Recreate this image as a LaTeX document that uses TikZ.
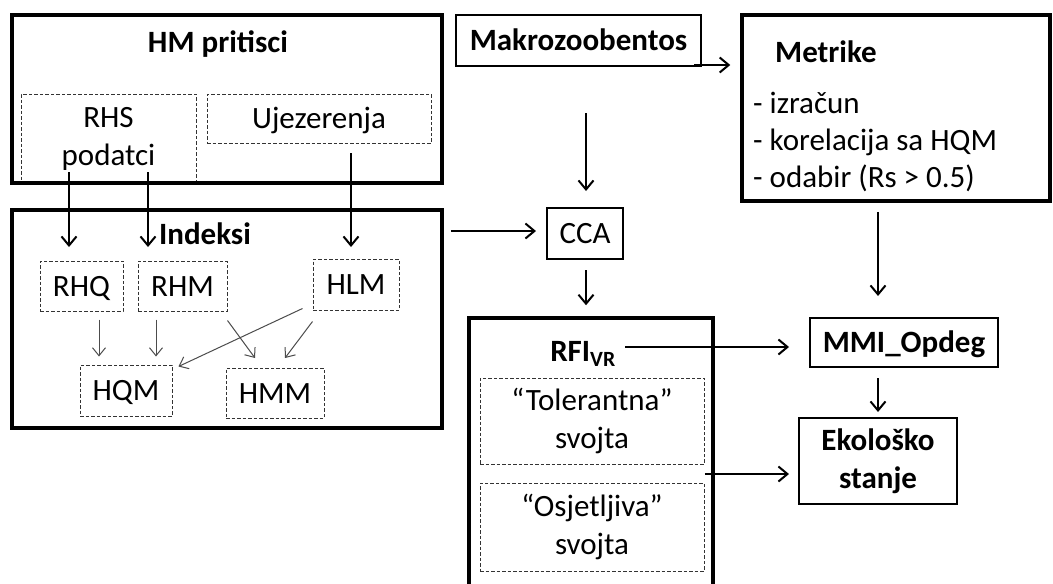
\documentclass[tikz,border=0pt]{standalone}
\usepackage{fontspec}
\setmainfont{Carlito}
\usetikzlibrary{arrows.meta}
\begin{document}
\begin{tikzpicture}[x=1pt,y=-1pt,
  every node/.style={font=\fontsize{31}{38}\selectfont, inner sep=0pt, align=center},
  sl/.style={text height=20pt, text depth=0pt},
  bold/.style={font=\fontsize{31}{38}\selectfont\bfseries},
  frame/.style={draw, line width=3.5pt},
  sbox/.style={draw, line width=2pt},
  dbox/.style={draw=black!80, line width=1pt, dash pattern=on 3.5pt off 2pt},
  arr/.style={line width=2pt, -{Straight Barb[length=9pt,width=15pt]}},
  tarr/.style={line width=1pt, draw=black!70, -{Straight Barb[length=8pt,width=13pt]}},
]
\clip (0,0) rectangle (1053,584);
\fill[white] (0,0) rectangle (1053,584);

% ---- HM pritisci
\node[dbox, minimum width=175, minimum height=90] (rhs) at (108.5,139) {RHS\\podatci};
\node[dbox, sl, minimum width=224, minimum height=49] (uje) at (319,118.5) {Ujezerenja};
\node[frame, minimum width=430, minimum height=168] (hm) at (227,99) {};
\node[bold, sl] (hmt) at (218,42) {HM pritisci};

% ---- Indeksi
\node[frame, minimum width=430, minimum height=218] (ind) at (227,319) {};
\node[bold, sl] (indt) at (205,234) {Indeksi};
\node[dbox, sl, minimum width=83, minimum height=50] (rhq) at (81.5,286) {RHQ};
\node[dbox, sl, minimum width=89, minimum height=50] (rhm) at (182.5,286) {RHM};
\node[dbox, sl, minimum width=86, minimum height=51] (hlm) at (356,284.5) {HLM};
\node[dbox, sl, minimum width=92, minimum height=51] (hqm) at (126,390.5) {HQM};
\node[dbox, sl, minimum width=98, minimum height=50] (hmm) at (275,393) {HMM};

% ---- right part
\node[sbox, sl, bold, minimum width=245, minimum height=51] (mak) at (578.5,40.5) {Makrozoobentos};
\node[frame, minimum width=308, minimum height=186] (met) at (896,108) {};
\node[bold, sl, anchor=west] (mett) at (775,52.5) {Metrike};
\node[sl, anchor=west] (met1) at (753,103) {- izračun};
\node[sl, anchor=west] (met2) at (753,140) {- korelacija sa HQM};
\node[sl, anchor=west] (met3) at (753,177) {- odabir (Rs > 0.5)};
\node[sbox, sl, minimum width=76, minimum height=51] (cca) at (585,233.5) {CCA};
\node[frame, minimum width=244, minimum height=282] (rfi) at (591,459) {};
\node[bold, sl] (rfit) at (583,351) {RFI\textsubscript{VR}};
\node[dbox, minimum width=224, minimum height=86] (tol) at (592,421) {“Tolerantna”\\svojta};
\node[dbox, minimum width=224, minimum height=88] (osj) at (592,527) {“Osjetljiva”\\svojta};
\node[sbox, sl, bold, minimum width=188, minimum height=49] (mmi) at (904,342.5) {MMI\_Opdeg};
\node[sbox, bold, minimum width=158, minimum height=86] (eko) at (878,461) {Ekološko\\stanje};

% ---- connector end points
\coordinate (a1s) at (69,172);  \coordinate (a1e) at (69,247);
\coordinate (a2s) at (148,172); \coordinate (a2e) at (148,247);
\coordinate (a3s) at (351,153); \coordinate (a3e) at (351,247);

% ---- arrows HM -> Indeksi
\draw[arr] (a1s) -- (a1e);
\draw[arr] (a2s) -- (a2e);
\draw[arr] (a3s) -- (a3e);

% ---- thin arrows inside Indeksi
\draw[tarr] ([yshift=-8pt]rhq.south -| 99,0) -- ([yshift=8pt]hqm.north -| 99,0);
\draw[tarr] ([yshift=-8pt]rhm.south -| 156,0) -- ([yshift=8pt]hqm.north -| 156,0);
\draw[tarr] ([xshift=0pt,yshift=-9pt]rhm.south east) -- (255,358);
\draw[tarr] ([xshift=-10pt,yshift=2pt]hlm.south west) -- ([xshift=6pt,yshift=-2pt]hqm.north east);
\draw[tarr] ([yshift=-11pt]hlm.south west) -- (285,358);

% ---- other arrows
\draw[arr] ([xshift=7pt]ind.east |- 0,231) -- ([xshift=-10pt]cca.west |- 0,231);
\draw[arr] ([xshift=-8pt]mak.south east |- 0,65) -- ([xshift=-10pt]met.west |- 0,65);
\draw[arr] (586,113) -- ([yshift=16pt]cca.north -| 586,0);
\draw[arr] ([yshift=-10pt]cca.south -| 586,0) -- ([yshift=11pt]rfi.north -| 586,0);
\draw[arr] ([yshift=-9pt]met.south -| eko.north) -- ([yshift=21pt]mmi.north -| eko.north);
\draw[arr] (625,347) -- ([xshift=-20pt]mmi.west |- 0,347);
\draw[arr] ([yshift=-10pt]mmi.south -| eko.north) -- ([yshift=5pt]eko.north);
\draw[arr] ([xshift=-10pt]rfi.east |- 0,474) -- ([xshift=-9pt]eko.west |- 0,474);
\end{tikzpicture}
\end{document}
